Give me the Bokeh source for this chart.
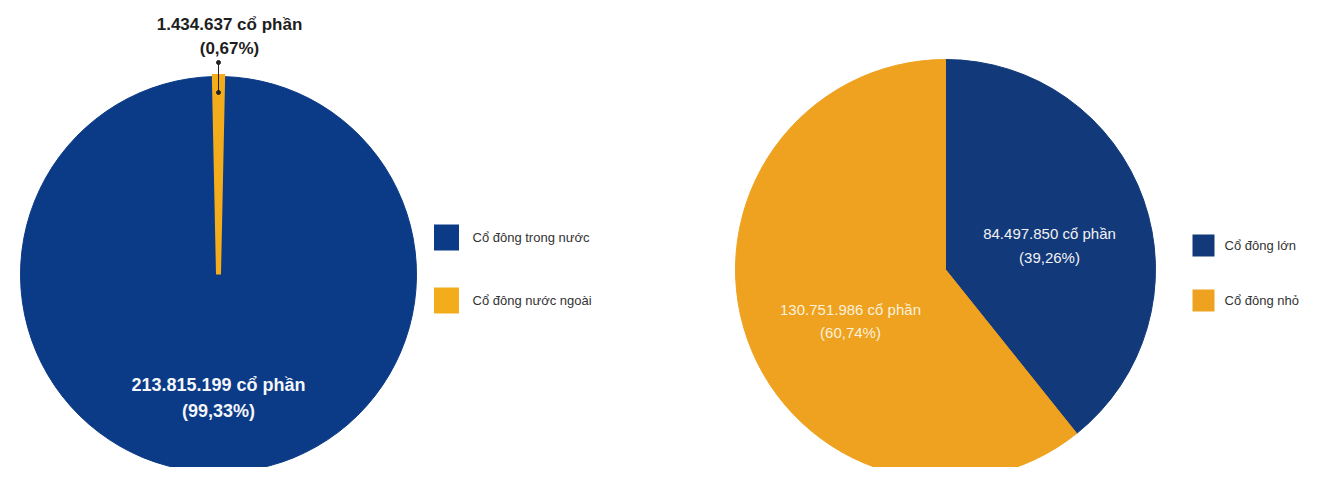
import math
from bokeh.plotting import figure
from bokeh.models import Range1d
from bokeh.core.properties import value
from bokeh.embed import file_html
from bokeh.resources import INLINE

# ---- data ----
left_labels = ["Cổ đông trong nước", "Cổ đông nước ngoài"]
left_values = [213815199, 1434637]
left_pct = ["99,33%", "0,67%"]
left_shares = ["213.815.199", "1.434.637"]

right_labels = ["Cổ đông lớn", "Cổ đông nhỏ"]
right_values = [84497850, 130751986]
right_pct = ["39,26%", "60,74%"]
right_shares = ["84.497.850", "130.751.986"]

W, H = 1310, 467
FONT = "Liberation Sans"

def sx(x):  # screen x -> data x
    return x - 8

def sy(y):  # screen y -> data y
    return H + 8 - y

p = figure(width=W, height=H, output_backend="svg", toolbar_location=None,
           x_range=Range1d(0, W), y_range=Range1d(0, H), min_border=0)
p.xaxis.visible = False
p.yaxis.visible = False
p.xgrid.visible = False
p.ygrid.visible = False
p.outline_line_color = None
p.background_fill_color = "white"

# ---- left pie ----
L_BLUE, L_ORANGE = "#0b3a86", "#f3ac1c"
lcx, lcy, lr = sx(226), sy(282), 198
tot = sum(left_values)
a_o = 2 * math.pi * left_values[1] / tot
a_b = 2 * math.pi * left_values[0] / tot
top = math.pi / 2
p.wedge(x=[lcx], y=[lcy], radius=lr, start_angle=[top + a_o / 2],
        end_angle=[top + a_o / 2 + a_b], color=L_BLUE, line_color=L_BLUE)
p.wedge(x=[lcx], y=[lcy], radius=lr, start_angle=[top - a_o / 2],
        end_angle=[top + a_o / 2], fill_color=L_ORANGE, line_color=L_ORANGE,
        line_width=5, line_join="miter")

# leader for small slice
p.line(x=[lcx, lcx], y=[sy(70), sy(100)], line_color="#222222", line_width=1)
p.scatter(x=[lcx, lcx], y=[sy(70), sy(100)], size=4, color="#222222")

p.text(x=[sx(237), sx(237)], y=[sy(32), sy(56)],
       text=[left_shares[1] + " cổ phần", "(" + left_pct[1] + ")"],
       text_font=value(FONT), text_font_style="bold", text_font_size="17px",
       text_color="#1e1e1e", text_align="center", text_baseline="middle")
p.text(x=[lcx, lcx], y=[sy(392), sy(418)],
       text=[left_shares[0] + " cổ phần", "(" + left_pct[0] + ")"],
       text_font=value(FONT), text_font_style="bold", text_font_size="18px",
       text_color="#f4f6fa", text_align="center", text_baseline="middle")

# left legend
p.rect(x=[sx(454), sx(454)], y=[sy(245), sy(308)], width=25, height=26,
       fill_color=[L_BLUE, L_ORANGE], line_color=None)
p.text(x=[sx(480), sx(480)], y=[sy(245), sy(308)], text=left_labels,
       text_font=value(FONT), text_font_size="13px", text_color="#333333",
       text_align="left", text_baseline="middle")

# ---- right pie ----
R_BLUE, R_ORANGE = "#12397a", "#eea21f"
rcx, rcy, rr = sx(953), sy(277), 210
tot2 = sum(right_values)
a1 = 2 * math.pi * right_values[0] / tot2
a2 = 2 * math.pi * right_values[1] / tot2
p.wedge(x=[rcx], y=[rcy], radius=rr, start_angle=[top - a1], end_angle=[top],
        color=R_BLUE, line_color=R_BLUE)
p.wedge(x=[rcx], y=[rcy], radius=rr, start_angle=[top], end_angle=[top + a2],
        color=R_ORANGE, line_color=R_ORANGE)

p.text(x=[sx(1057), sx(1057)], y=[sy(241), sy(265)],
       text=[right_shares[0] + " cổ phần", "(" + right_pct[0] + ")"],
       text_font=value(FONT), text_font_size="15px",
       text_color="#f2f2f2", text_align="center", text_baseline="middle")
p.text(x=[sx(858), sx(858)], y=[sy(317), sy(340)],
       text=[right_shares[1] + " cổ phần", "(" + right_pct[1] + ")"],
       text_font=value(FONT), text_font_size="15px",
       text_color="#fbf1dc", text_align="center", text_baseline="middle")

# right legend
p.rect(x=[sx(1211), sx(1211)], y=[sy(253), sy(308)], width=22, height=22,
       fill_color=[R_BLUE, R_ORANGE], line_color=None)
p.text(x=[sx(1232), sx(1232)], y=[sy(253), sy(308)], text=right_labels,
       text_font=value(FONT), text_font_size="13px", text_color="#333333",
       text_align="left", text_baseline="middle")

open("out.html", "w").write(file_html(p, INLINE))
